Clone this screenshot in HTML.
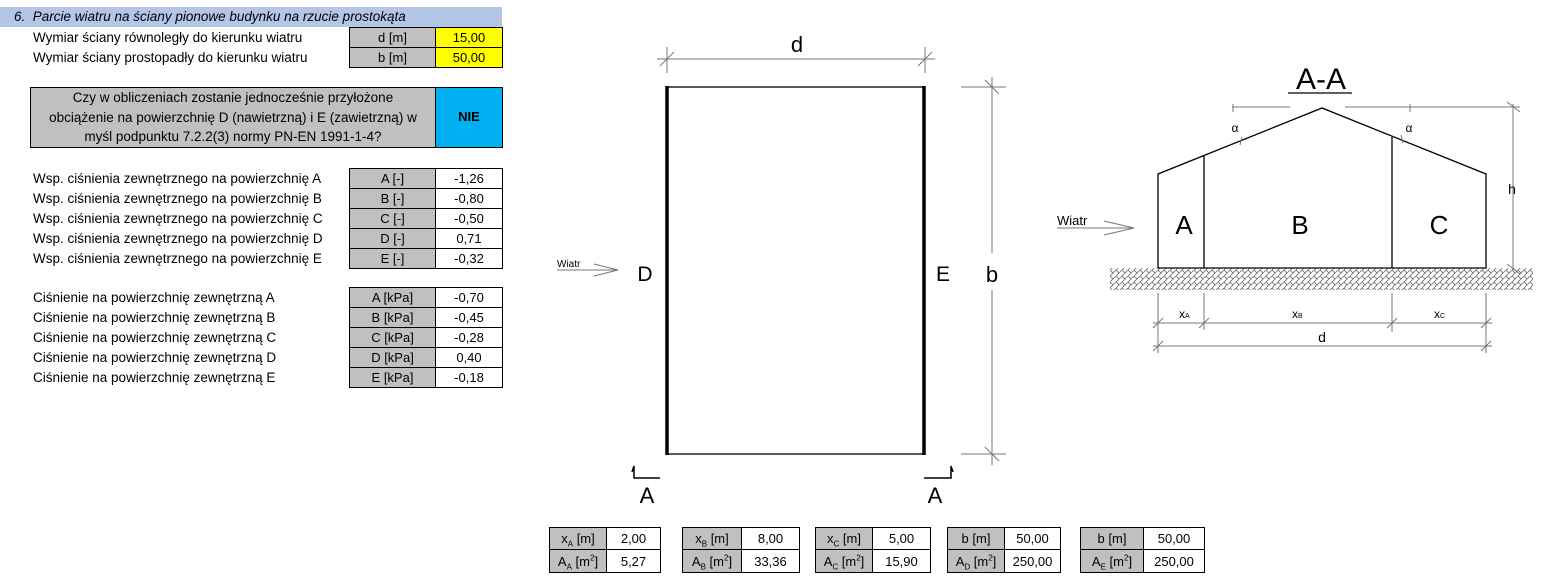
<!DOCTYPE html>
<html><head><meta charset="utf-8"><style>
body{margin:0;width:1547px;height:587px;background:#fff;position:relative;overflow:hidden;font-family:"Liberation Sans",sans-serif;font-size:13.5px;color:#000}
.a{position:absolute;box-sizing:border-box}
.t{position:absolute;white-space:nowrap;line-height:18px}
.c{position:absolute;box-sizing:border-box;border:1px solid #000;text-align:center;line-height:20px;font-size:13px;white-space:nowrap}
.g{background:#c0c0c0}.y{background:#ffff00}.w{background:#fff}
sub,sup{line-height:0}
svg{position:absolute;left:0;top:0}
</style></head><body>
<div class="a" style="left:0;top:7px;width:502px;height:20px;background:#b4c6e7"></div>
<div class="t" style="left:14px;top:8px;font-style:italic;font-size:13.5px">6.&nbsp; Parcie wiatru na ściany pionowe budynku na rzucie prostokąta</div>
<div class="t" style="left:33px;top:29px">Wymiar ściany równoległy do kierunku wiatru</div>
<div class="t" style="left:33px;top:49px">Wymiar ściany prostopadły do kierunku wiatru</div>
<div class="c g" style="left:349px;top:27px;width:87px;height:21px">d [m]</div>
<div class="c y" style="left:435px;top:27px;width:68px;height:21px">15,00</div>
<div class="c g" style="left:349px;top:47px;width:87px;height:21px">b [m]</div>
<div class="c y" style="left:435px;top:47px;width:68px;height:21px">50,00</div>
<div class="c g" style="left:30px;top:87px;width:406px;height:61px;line-height:19.5px;font-size:13.5px">Czy w obliczeniach zostanie jednocześnie przyłożone<br>obciążenie na powierzchnię D (nawietrzną) i E (zawietrzną) w<br>myśl podpunktu 7.2.2(3) normy PN-EN 1991-1-4?</div>
<div class="c" style="left:435px;top:87px;width:68px;height:61px;background:#00b0f0;line-height:57px;font-weight:bold">NIE</div>

<div class="t" style="left:33px;top:170px">Wsp. ciśnienia zewnętrznego na powierzchnię A</div>
<div class="t" style="left:33px;top:190px">Wsp. ciśnienia zewnętrznego na powierzchnię B</div>
<div class="t" style="left:33px;top:210px">Wsp. ciśnienia zewnętrznego na powierzchnię C</div>
<div class="t" style="left:33px;top:230px">Wsp. ciśnienia zewnętrznego na powierzchnię D</div>
<div class="t" style="left:33px;top:250px">Wsp. ciśnienia zewnętrznego na powierzchnię E</div>
<div class="c g" style="left:349px;top:168px;width:87px;height:21px">A [-]</div><div class="c w" style="left:435px;top:168px;width:68px;height:21px">-1,26</div>
<div class="c g" style="left:349px;top:188px;width:87px;height:21px">B [-]</div><div class="c w" style="left:435px;top:188px;width:68px;height:21px">-0,80</div>
<div class="c g" style="left:349px;top:208px;width:87px;height:21px">C [-]</div><div class="c w" style="left:435px;top:208px;width:68px;height:21px">-0,50</div>
<div class="c g" style="left:349px;top:228px;width:87px;height:21px">D [-]</div><div class="c w" style="left:435px;top:228px;width:68px;height:21px">0,71</div>
<div class="c g" style="left:349px;top:248px;width:87px;height:21px">E [-]</div><div class="c w" style="left:435px;top:248px;width:68px;height:21px">-0,32</div>

<div class="t" style="left:33px;top:289px">Ciśnienie na powierzchnię zewnętrzną A</div>
<div class="t" style="left:33px;top:309px">Ciśnienie na powierzchnię zewnętrzną B</div>
<div class="t" style="left:33px;top:329px">Ciśnienie na powierzchnię zewnętrzną C</div>
<div class="t" style="left:33px;top:349px">Ciśnienie na powierzchnię zewnętrzną D</div>
<div class="t" style="left:33px;top:369px">Ciśnienie na powierzchnię zewnętrzną E</div>
<div class="c g" style="left:349px;top:287px;width:87px;height:21px">A [kPa]</div><div class="c w" style="left:435px;top:287px;width:68px;height:21px">-0,70</div>
<div class="c g" style="left:349px;top:307px;width:87px;height:21px">B [kPa]</div><div class="c w" style="left:435px;top:307px;width:68px;height:21px">-0,45</div>
<div class="c g" style="left:349px;top:327px;width:87px;height:21px">C [kPa]</div><div class="c w" style="left:435px;top:327px;width:68px;height:21px">-0,28</div>
<div class="c g" style="left:349px;top:347px;width:87px;height:21px">D [kPa]</div><div class="c w" style="left:435px;top:347px;width:68px;height:21px">0,40</div>
<div class="c g" style="left:349px;top:367px;width:87px;height:21px">E [kPa]</div><div class="c w" style="left:435px;top:367px;width:68px;height:21px">-0,18</div>

<!-- bottom tables -->
<div class="c g" style="left:549px;top:527px;width:58px;height:23px;line-height:22px">x<sub style="font-size:8px">A</sub> [m]</div><div class="c w" style="left:606px;top:527px;width:55px;height:23px;line-height:22px">2,00</div>
<div class="c g" style="left:549px;top:549px;width:58px;height:24px;line-height:23px">A<sub style="font-size:8px">A</sub> [m<sup style="font-size:8px">2</sup>]</div><div class="c w" style="left:606px;top:549px;width:55px;height:24px;line-height:23px">5,27</div>
<div class="c g" style="left:682px;top:527px;width:60px;height:23px;line-height:22px">x<sub style="font-size:8px">B</sub> [m]</div><div class="c w" style="left:741px;top:527px;width:59px;height:23px;line-height:22px">8,00</div>
<div class="c g" style="left:682px;top:549px;width:60px;height:24px;line-height:23px">A<sub style="font-size:8px">B</sub> [m<sup style="font-size:8px">2</sup>]</div><div class="c w" style="left:741px;top:549px;width:59px;height:24px;line-height:23px">33,36</div>
<div class="c g" style="left:815px;top:527px;width:58px;height:23px;line-height:22px">x<sub style="font-size:8px">C</sub> [m]</div><div class="c w" style="left:872px;top:527px;width:59px;height:23px;line-height:22px">5,00</div>
<div class="c g" style="left:815px;top:549px;width:58px;height:24px;line-height:23px">A<sub style="font-size:8px">C</sub> [m<sup style="font-size:8px">2</sup>]</div><div class="c w" style="left:872px;top:549px;width:59px;height:24px;line-height:23px">15,90</div>
<div class="c g" style="left:947px;top:527px;width:58px;height:23px;line-height:22px">b [m]</div><div class="c w" style="left:1004px;top:527px;width:57px;height:23px;line-height:22px">50,00</div>
<div class="c g" style="left:947px;top:549px;width:58px;height:24px;line-height:23px">A<sub style="font-size:8px">D</sub> [m<sup style="font-size:8px">2</sup>]</div><div class="c w" style="left:1004px;top:549px;width:57px;height:24px;line-height:23px">250,00</div>
<div class="c g" style="left:1080px;top:527px;width:64px;height:23px;line-height:22px">b [m]</div><div class="c w" style="left:1143px;top:527px;width:62px;height:23px;line-height:22px">50,00</div>
<div class="c g" style="left:1080px;top:549px;width:64px;height:24px;line-height:23px">A<sub style="font-size:8px">E</sub> [m<sup style="font-size:8px">2</sup>]</div><div class="c w" style="left:1143px;top:549px;width:62px;height:24px;line-height:23px">250,00</div>

<svg width="1547" height="587" viewBox="0 0 1547 587">
<defs><pattern id="h" width="6" height="6" patternUnits="userSpaceOnUse"><path d="M0 6 L6 0 M0 0 L3 3" stroke="#777" stroke-width="0.9" fill="none"/></pattern></defs>
<g font-family="Liberation Sans, sans-serif" fill="#000">
<rect x="667" y="87" width="257" height="367" fill="none" stroke="#000" stroke-width="1.3"/>
<line x1="667" y1="86" x2="667" y2="455" stroke="#000" stroke-width="3.5"/>
<line x1="924" y1="86" x2="924" y2="455" stroke="#000" stroke-width="3.5"/>
<g stroke="#777" stroke-width="1">
<line x1="657" y1="59" x2="935" y2="59"/><line x1="667" y1="47" x2="667" y2="73"/><line x1="925" y1="47" x2="925" y2="73"/>
<line x1="660" y1="66" x2="674" y2="52"/><line x1="918" y1="66" x2="932" y2="52"/>
<line x1="992" y1="77" x2="992" y2="253"/><line x1="992" y1="290" x2="992" y2="465"/>
<line x1="961" y1="87" x2="1006" y2="87"/><line x1="961" y1="454" x2="1006" y2="454"/>
<line x1="985" y1="80" x2="999" y2="94"/><line x1="985" y1="447" x2="999" y2="461"/>
<line x1="557" y1="270" x2="618" y2="270"/><line x1="594" y1="264" x2="618" y2="270"/><line x1="594" y1="276" x2="618" y2="270"/>
</g>
<text x="797" y="52" font-size="22" text-anchor="middle">d</text>
<text x="992" y="282" font-size="22" text-anchor="middle">b</text>
<text x="645" y="281" font-size="21" text-anchor="middle">D</text>
<text x="943" y="281" font-size="21" text-anchor="middle">E</text>
<text x="557" y="267" font-size="10">Wiatr</text>
<g stroke="#000" stroke-width="1.5" fill="none"><path d="M632 472 L634 466 L634 478 L660 478"/><path d="M924 478 L951 478 L951 466 L953 472"/></g>
<text x="647" y="503" font-size="22" text-anchor="middle">A</text>
<text x="935" y="503" font-size="22" text-anchor="middle">A</text>
<text x="1321" y="89" font-size="30" text-anchor="middle">A-A</text>
<line x1="1288" y1="93" x2="1352" y2="93" stroke="#000" stroke-width="1.2"/>
<rect x="1110" y="268" width="423" height="22" fill="url(#h)"/>
<path d="M1158 268 L1158 174 L1322 108 L1486 174 L1486 268 Z" fill="#fff" stroke="#000" stroke-width="1.3"/>
<line x1="1204" y1="156" x2="1204" y2="268" stroke="#000" stroke-width="1.3"/>
<line x1="1392" y1="137" x2="1392" y2="268" stroke="#000" stroke-width="1.3"/>
<text x="1184" y="234" font-size="26" text-anchor="middle">A</text>
<text x="1300" y="234" font-size="26" text-anchor="middle">B</text>
<text x="1439" y="234" font-size="26" text-anchor="middle">C</text>
<text x="1057" y="225" font-size="13">Wiatr</text>
<g stroke="#777" stroke-width="1" fill="none">
<line x1="1057" y1="228" x2="1134" y2="228"/><line x1="1104" y1="221" x2="1134" y2="228"/><line x1="1104" y1="235" x2="1134" y2="228"/>
<line x1="1232" y1="107" x2="1290" y2="107"/><line x1="1345" y1="107" x2="1520" y2="107"/>
<line x1="1233" y1="104" x2="1233" y2="112"/><line x1="1410" y1="104" x2="1410" y2="112"/>
<line x1="1513" y1="104" x2="1513" y2="270"/><line x1="1507" y1="102" x2="1520" y2="112"/><line x1="1507" y1="264" x2="1520" y2="274"/>
<line x1="1242" y1="137" x2="1240" y2="145"/><line x1="1401" y1="135" x2="1403" y2="143"/>
<line x1="1153" y1="323" x2="1492" y2="323"/><line x1="1153" y1="346" x2="1492" y2="346"/>
<line x1="1158" y1="293" x2="1158" y2="353"/><line x1="1204" y1="293" x2="1204" y2="330"/><line x1="1392" y1="293" x2="1392" y2="332"/><line x1="1486" y1="293" x2="1486" y2="353"/>
<line x1="1153" y1="328" x2="1163" y2="318"/><line x1="1199" y1="328" x2="1209" y2="318"/><line x1="1387" y1="328" x2="1397" y2="318"/><line x1="1481" y1="328" x2="1491" y2="318"/>
<line x1="1153" y1="351" x2="1163" y2="341"/><line x1="1481" y1="351" x2="1491" y2="341"/>
</g>
<text x="1235" y="132" font-size="12" text-anchor="middle">α</text>
<text x="1409" y="132" font-size="12" text-anchor="middle">α</text>
<text x="1512" y="194" font-size="14" text-anchor="middle">h</text>
<text x="1179" y="318" font-size="12">x<tspan font-size="7">A</tspan></text>
<text x="1292" y="318" font-size="12">x<tspan font-size="7">B</tspan></text>
<text x="1434" y="318" font-size="12">x<tspan font-size="7">C</tspan></text>
<text x="1322" y="342" font-size="14" text-anchor="middle">d</text>
</g>
</svg>
</body></html>
